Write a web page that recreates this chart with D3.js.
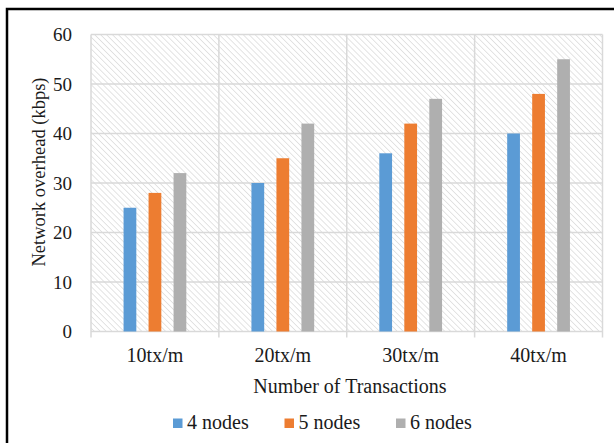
<!DOCTYPE html>
<html><head><meta charset="utf-8">
<script src="https://cdn.jsdelivr.net/npm/d3@7"></script>
<style>body{margin:0;background:#fff}svg{display:block}</style>
</head><body><svg id="c" width="614" height="443" font-family="'Liberation Serif', 'Times New Roman', Times, serif"></svg>
<script>
const categories = ["10tx/m","20tx/m","30tx/m","40tx/m"];
const seriesNames = ["4 nodes","5 nodes","6 nodes"];
const nodes4 = [25,30,36,40];
const nodes5 = [28,35,42,48];
const nodes6 = [32,42,47,55];
const yTicks = [0,10,20,30,40,50,60];
const colors = ["#5B9BD5","#ED7D31","#AFAFAF"];
const seriesValues = [nodes4,nodes5,nodes6];

const svg = d3.select("#c");
const m = {l:91, r:602.5, t:34.5, b:331.5};
const FONT = "'Liberation Serif', 'Times New Roman', Times, serif";

const defs = svg.append("defs");
const pat = defs.append("pattern").attr("id","hatch").attr("patternUnits","userSpaceOnUse")
  .attr("width",4.2).attr("height",4.2).attr("patternTransform","rotate(-45)");
pat.append("rect").attr("width",4.2).attr("height",4.2).attr("fill","#fff");
pat.append("line").attr("x1",0).attr("y1",0).attr("x2",0).attr("y2",4.2)
  .attr("stroke","#d6d6d6").attr("stroke-width",1.3);

svg.append("path").attr("d","M7,443 V9 H614").attr("fill","none").attr("stroke","#000").attr("stroke-width",2.5);

const x0 = d3.scaleBand().domain(categories).range([m.l,m.r]).padding(0);
const x1 = d3.scaleBand().domain(seriesNames).range([0,75]).paddingInner(0.49).paddingOuter(0.245);
const y = d3.scaleLinear().domain([0,60]).range([m.b,m.t]);

svg.append("rect").attr("x",m.l).attr("y",m.t).attr("width",m.r-m.l).attr("height",m.b-m.t).attr("fill","url(#hatch)");

svg.append("g").selectAll("line").data(yTicks).join("line")
  .attr("x1",m.l).attr("x2",m.r).attr("y1",d=>y(d)).attr("y2",d=>y(d))
  .attr("stroke","#d9d9d9").attr("stroke-width",1.5);
const bounds = categories.map(c=>x0(c)).concat([x0(categories[3])+x0.bandwidth()]);
svg.append("g").selectAll("line").data(bounds).join("line")
  .attr("x1",d=>d).attr("x2",d=>d).attr("y1",m.t).attr("y2",m.b+6)
  .attr("stroke","#d9d9d9").attr("stroke-width",1.5);

const g = svg.append("g");
seriesNames.forEach((s,si)=>{
  g.selectAll(null).data(seriesValues[si]).join("rect")
    .attr("x",(d,i)=>x0(categories[i])+(x0.bandwidth()-75)/2+x1(s))
    .attr("width",x1.bandwidth())
    .attr("y",d=>y(d)).attr("height",d=>y(0)-y(d))
    .attr("fill",colors[si]);
});

const T = sel => sel.attr("font-family",FONT).attr("fill","#1a1a1a");

svg.append("g").selectAll("text").data(yTicks).join("text")
  .attr("x",72).attr("y",d=>y(d)).attr("dy","0.35em").attr("text-anchor","end")
  .attr("font-size",19).text(d=>d).call(T);
svg.append("g").selectAll("text").data(categories).join("text")
  .attr("x",d=>x0(d)+x0.bandwidth()/2).attr("y",362).attr("text-anchor","middle")
  .attr("font-size",20).text(d=>d).call(T);

svg.append("text").attr("x",350).attr("y",393).attr("text-anchor","middle")
  .attr("font-size",20).text("Number of Transactions").call(T);
svg.append("text").attr("transform","translate(45,172) rotate(-90)")
  .attr("text-anchor","middle").attr("font-size",18.5).text("Network overhead (kbps)").call(T);

const legX = [173, 284.5, 396];
const lg = svg.append("g");
seriesNames.forEach((s,i)=>{
  lg.append("rect").attr("x",legX[i]).attr("y",418.5).attr("width",9.5).attr("height",9.5).attr("fill",colors[i]);
  lg.append("text").attr("x",legX[i]+14).attr("y",429).attr("font-size",20).text(s).call(T);
});
</script></body></html>
